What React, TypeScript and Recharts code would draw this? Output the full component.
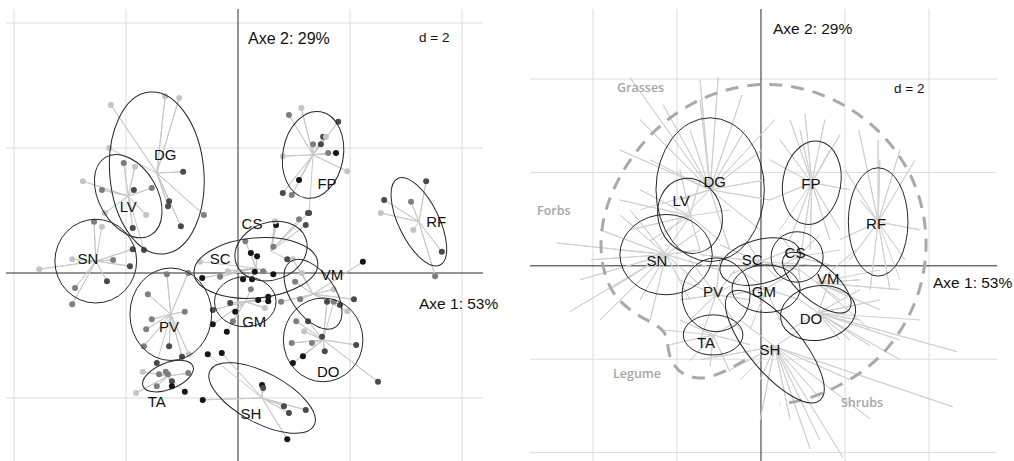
import { ScatterChart, Scatter, XAxis, YAxis, ReferenceLine } from 'recharts';

type P = [number, number];
type SP = [number, number, string];

const groups = ['DG', 'LV', 'SN', 'PV', 'TA', 'SC', 'CS', 'VM', 'GM', 'DO', 'SH', 'FP', 'RF'];

// ---- left panel: sites ----
const leftCentre: Record<string, P> = {
  DG: [-1.45, 1.6], LV: [-1.96, 1.23], SN: [-2.54, 0.19], PV: [-1.2, -0.66], TA: [-1.25, -1.65],
  SC: [0.32, 0.08], CS: [0.59, 0.35], VM: [1.34, -0.34], GM: [0.13, -0.46], DO: [1.52, -1.07],
  SH: [0.43, -2.0], FP: [1.34, 1.89], RF: [3.23, 0.82],
};
// rx, ry, tilt (deg)
const leftAxes: Record<string, [number, number, number]> = {
  DG: [0.84, 1.3, -5], LV: [0.52, 0.72, -30], SN: [0.73, 0.67, 0], PV: [0.73, 0.74, 0], TA: [0.48, 0.21, -22],
  SC: [1.11, 0.48, -5], CS: [0.66, 0.46, -20], VM: [0.71, 0.35, 55], GM: [0.55, 0.4, 0], DO: [0.71, 0.67, 0],
  SH: [1.05, 0.4, 28], FP: [0.54, 0.7, 10], RF: [0.36, 0.77, -26],
};
const leftLabelPos: Record<string, P> = {
  DG: [-1.3, 1.89], LV: [-1.96, 1.06], SN: [-2.68, 0.24], PV: [-1.23, -0.86], TA: [-1.45, -2.06],
  SC: [-0.32, 0.24], CS: [0.25, 0.8], VM: [1.68, -0.02], GM: [0.29, -0.77], DO: [1.61, -1.58],
  SH: [0.23, -2.24], FP: [1.59, 1.44], RF: [3.54, 0.83],
};
const leftSites: Record<string, SP[]> = {
  DG: [[-1.3, 2.83, 'L'], [-1.05, 2.8, 'L'], [-2.27, 2.69, 'L'], [-0.98, 1.62, 'D'], [-1.23, 1.15, 'D'], [-1.25, 1.07, 'D'], [-0.61, 0.93, 'M'], [-1.02, 0.75, 'D'], [-2.3, 2.0, 'L']],
  LV: [[-2.04, 1.76, 'M'], [-1.84, 1.7, 'L'], [-2.77, 1.47, 'L'], [-2.43, 1.33, 'M'], [-1.86, 1.33, 'D'], [-1.54, 1.36, 'M'], [-2.38, 0.96, 'L'], [-1.64, 0.93, 'L'], [-1.88, 0.72, 'D'], [-1.68, 0.37, 'D']],
  SN: [[-3.55, 0.06, 'L'], [-2.96, 0.22, 'L'], [-2.23, 0.21, 'M'], [-1.93, 0.11, 'D'], [-1.88, 0.38, 'D'], [-2.34, -0.13, 'D'], [-2.91, -0.24, 'M'], [-2.96, -0.5, 'M'], [-2.57, 0.82, 'M'], [-2.43, 0.74, 'L']],
  PV: [[-1.27, -0.02, 'M'], [-0.89, 0.0, 'M'], [-1.61, -0.34, 'M'], [-0.95, -0.62, 'M'], [-1.54, -0.74, 'M'], [-1.64, -0.9, 'M'], [-1.68, -1.17, 'M'], [-1.23, -1.17, 'D'], [-1.0, -1.34, 'D'], [-0.88, -1.3, 'L'], [-1.45, -1.44, 'D']],
  TA: [[-1.41, -1.62, 'M'], [-1.29, -1.58, 'M'], [-1.25, -1.62, 'M'], [-1.18, -1.73, 'D'], [-1.18, -1.81, 'B'], [-1.45, -1.81, 'M'], [-1.7, -1.58, 'L'], [-1.82, -1.92, 'L'], [-0.89, -1.6, 'M'], [-0.95, -1.9, 'B']],
  SC: [[-0.64, -0.08, 'B'], [-0.32, -0.06, 'M'], [0.13, 0.51, 'M'], [0.23, 0.32, 'B'], [0.34, 0.27, 'B'], [0.3, 0.02, 'B'], [0.09, -0.1, 'B'], [0.63, -0.02, 'B'], [0.25, -0.1, 'B'], [0.45, 0.03, 'M'], [-0.18, 0.03, 'L'], [-0.68, 0.18, 'L']],
  CS: [[0.68, 0.77, 'B'], [1.09, 0.86, 'M'], [1.25, 0.96, 'D'], [1.21, 0.77, 'D'], [0.66, 0.83, 'L'], [0.63, 0.42, 'M'], [0.88, 0.22, 'D']],
  VM: [[2.23, 0.18, 'B'], [0.98, 0.22, 'L'], [1.14, 0.0, 'L'], [1.02, -0.14, 'M'], [1.71, -0.26, 'L'], [1.11, -0.42, 'M'], [2.07, -0.42, 'D'], [0.77, -0.46, 'M'], [1.82, -0.51, 'D'], [1.95, -0.61, 'L']],
  GM: [[0.36, -0.43, 'B'], [0.54, -0.38, 'B'], [0.54, -0.45, 'B'], [-0.14, -0.48, 'D'], [-0.05, -0.62, 'B'], [-0.45, -0.59, 'D'], [-0.09, -0.77, 'M'], [0.23, -0.26, 'M'], [0.48, -0.56, 'L'], [-0.45, -0.82, 'B'], [-0.2, -0.94, 'B']],
  DO: [[1.04, -0.77, 'M'], [1.25, -0.77, 'D'], [1.18, -0.93, 'L'], [1.5, -1.02, 'D'], [0.96, -1.12, 'M'], [1.32, -1.12, 'M'], [1.55, -1.25, 'D'], [1.16, -1.33, 'B'], [0.98, -1.44, 'B'], [2.11, -1.15, 'D'], [2.5, -1.74, 'D'], [1.59, -0.46, 'D'], [1.71, -0.46, 'M']],
  SH: [[0.43, -1.79, 'B'], [0.45, -1.84, 'D'], [0.82, -2.13, 'D'], [0.91, -2.24, 'D'], [1.21, -2.19, 'D'], [0.88, -2.66, 'B'], [-0.63, -2.03, 'B'], [-0.29, -1.28, 'B'], [-0.54, -1.3, 'B']],
  FP: [[1.13, 2.64, 'L'], [0.91, 2.53, 'M'], [1.79, 2.42, 'D'], [1.52, 2.18, 'D'], [1.57, 2.18, 'L'], [1.34, 2.06, 'M'], [1.48, 2.06, 'D'], [1.61, 1.92, 'M'], [1.75, 1.92, 'B'], [0.8, 1.87, 'L'], [1.95, 1.63, 'L'], [1.09, 1.49, 'B'], [0.8, 1.28, 'D'], [0.96, 1.25, 'M'], [1.27, 0.96, 'D']],
  RF: [[3.36, 1.47, 'D'], [2.61, 1.17, 'D'], [3.09, 1.14, 'M'], [2.55, 0.96, 'L'], [3.64, 0.34, 'D'], [3.52, -0.05, 'M'], [3.13, 0.69, 'L']],
};
const shade: Record<string, string> = { L: '#c4c4c4', M: '#7e7e7e', D: '#4a4a4a', B: '#151515' };

// ---- right panel: species ----
const rightCentre: Record<string, P> = {
  DG: [-1.21, 1.63], LV: [-1.69, 1.07], SN: [-2.26, 0.24], PV: [-1.07, -0.62], TA: [-1.14, -1.48],
  SC: [-0.02, 0.09], CS: [0.86, 0.19], VM: [1.33, -0.36], GM: [0.12, -0.49], DO: [1.36, -1.01],
  SH: [0.33, -1.73], FP: [1.21, 1.78], RF: [2.79, 0.94],
};
const rightAxes: Record<string, [number, number, number]> = {
  DG: [1.29, 1.54, 0], LV: [0.76, 0.81, -15], SN: [1.1, 0.86, 0], PV: [0.81, 0.79, 0], TA: [0.71, 0.43, 0],
  SC: [0.98, 0.47, -15], CS: [0.62, 0.54, 0], VM: [1.0, 0.39, 40], GM: [0.81, 0.51, 0], DO: [0.9, 0.58, -10],
  SH: [1.67, 0.56, 50], FP: [0.69, 0.9, 10], RF: [0.71, 1.16, 0],
};
const rightLabelPos: Record<string, P> = {
  DG: [-1.1, 1.8], LV: [-1.9, 1.39], SN: [-2.48, 0.11], PV: [-1.14, -0.56], TA: [-1.31, -1.65],
  SC: [-0.21, 0.13], CS: [0.81, 0.28], VM: [1.6, -0.28], GM: [0.07, -0.56], DO: [1.19, -1.13],
  SH: [0.21, -1.8], FP: [1.19, 1.76], RF: [2.74, 0.9],
};
const rightSpokes: Record<string, P[]> = {
  DG: [[-3.12, 4.03], [-2.33, 3.45], [-1.45, 3.98], [-1.02, 4.03], [-0.45, 3.66], [0.02, 2.48], [0.1, 1.84], [0.21, 1.41], [-2.64, 2.27], [-3.36, 2.48], [-2.4, 0.56], [-0.74, 0.34], [-1.69, 2.91], [0.33, 3.13], [-2.88, 3.13], [-1.45, 3.55], [-0.38, 2.91], [-1.93, 1.41], [-0.02, 0.77], [-2.88, 1.2]],
  LV: [[-2.88, 1.63], [-3.36, 1.41], [-2.64, 0.54], [-1.45, 0.34], [-0.98, 0.54], [-1.93, 2.06], [-3.12, 0.77], [-1.45, 1.84], [-2.4, 0.13], [-0.74, 1.2]],
  SN: [[-4.86, 0.49], [-4.55, -0.98], [-3.83, 0.77], [-3.36, 1.09], [-3.6, -0.51], [-2.88, -0.73], [-1.45, 0.77], [-0.98, -0.09], [-2.64, -1.16], [-1.69, -0.73], [-4.05, 0.13], [-1.45, -0.41], [-4.31, -0.3], [-3.83, -1.16], [-3.12, 1.2], [-1.45, 0.34], [-3.36, 0.34]],
  PV: [[-1.93, -0.3], [-1.69, -1.16], [-0.5, -1.37], [-0.98, 0.13], [-0.26, -0.73], [-1.45, -1.59], [-1.93, -0.73], [-0.62, -0.09], [-1.69, 0.13], [-0.5, -0.3]],
  TA: [[-2.17, -1.69], [-1.93, -1.16], [-0.5, -1.16], [-0.26, -1.69], [-1.21, -2.14], [-1.69, -2.03], [-0.74, -2.27], [-2.4, -1.37]],
  SC: [[-0.98, 0.45], [-0.74, -0.19], [0.69, 0.34], [0.93, -0.09], [-0.38, 0.56], [0.45, -0.3], [-1.45, 0.24], [1.17, 0.02]],
  CS: [[0.45, 0.66], [1.4, 0.66], [1.64, 0.02], [0.93, -0.3], [0.33, -0.09], [1.88, 0.34]],
  VM: [[2.12, -0.62], [2.36, -0.3], [1.88, -0.73], [2.83, -0.94], [0.93, -0.09], [2.6, -1.37], [2.26, 0.34], [3.31, -0.51], [2.83, -0.09]],
  GM: [[-0.5, -0.09], [0.69, -0.19], [0.93, -0.73], [-0.02, -0.94], [0.45, -1.16], [-0.74, -0.62], [-0.26, -1.37]],
  DO: [[4.67, -1.84], [3.31, -1.59], [2.36, -0.51], [2.83, -0.73], [2.12, -1.59], [0.69, -1.37], [1.64, -0.3], [2.6, -1.71], [0.93, -0.73], [3.31, -2.01], [2.36, -1.16], [1.88, -1.59], [3.79, -1.16]],
  SH: [[1.95, -4.1], [4.57, -3.02], [1.4, -2.83], [1.17, -3.92], [0.69, -3.28], [-0.02, -2.44], [-0.74, -2.23], [-0.5, -1.16], [2.12, -2.44], [0.93, -1.37], [2.6, -3.28], [-1.45, -2.01], [-0.02, -3.3], [1.4, -3.73], [-0.5, -2.44]],
  FP: [[0.69, 3.13], [1.05, 3.25], [1.52, 3.13], [1.88, 2.81], [0.45, 2.7], [0.21, 1.41], [0.69, 0.56], [1.17, 0.34], [1.88, 0.77], [2.1, 1.63], [0.93, 0.13], [0.21, 2.27], [1.64, 0.56], [0.93, 2.91], [1.64, 2.48], [0.45, 0.77]],
  RF: [[2.33, 2.91], [2.79, 2.7], [3.31, 2.48], [3.67, 2.27], [2.0, 2.06], [2.12, 0.13], [2.6, -0.51], [3.07, -0.51], [3.43, 0.13], [3.79, 0.77], [2.36, 1.41], [1.88, 0.56], [2.83, 2.27], [3.31, -0.3]],
};
// functional-group envelope (dashed), from the Legume bulge round to Shrubs
const envelope: P[] = [
  [-0.38, -2.02], [-0.9, -2.29], [-1.45, -2.46], [-2.0, -2.29], [-2.24, -1.84], [-2.21, -1.37],
  [-2.88, -1.11], [-3.55, -0.66], [-3.83, 0.09], [-3.81, 0.88], [-3.55, 1.63], [-3.0, 2.48], [-2.17, 3.23],
  [-1.12, 3.73], [0.02, 3.94], [1.07, 3.81], [2.0, 3.47], [2.83, 2.91], [3.45, 2.2], [3.83, 1.41], [3.98, 0.47],
  [3.83, -0.47], [3.45, -1.26], [2.83, -2.01], [2.0, -2.53], [1.05, -2.89], [0.45, -2.96],
];

const Blank = () => <g />;
const FONT = '"Liberation Sans", Arial, sans-serif';

function Panel(props: any) {
  const { w, h, m, xd, yd, gx, gy, centre, axes, labelPos, spokes, sites, env } = props;
  const kx = (w - m.left - m.right) / (xd[1] - xd[0]);
  const ky = (h - m.top - m.bottom) / (yd[1] - yd[0]);
  const ell = groups.map((g) => ({ x: centre[g][0], y: centre[g][1], rx: axes[g][0], ry: axes[g][1], t: axes[g][2] }));
  const labels = groups.map((g) => ({ x: labelPos[g][0], y: labelPos[g][1], name: g }));
  const pts = sites ? groups.flatMap((g) => sites[g].map((s: SP) => ({ x: s[0], y: s[1], c: shade[s[2]] }))) : [];
  return (
    <ScatterChart width={w} height={h} margin={m}>
      <XAxis type="number" dataKey="x" domain={xd} hide allowDataOverflow />
      <YAxis type="number" dataKey="y" domain={yd} hide allowDataOverflow />
      {gx.map((v: number) => <ReferenceLine key={'gx' + v} x={v} stroke="#dcdcdc" />)}
      {gy.map((v: number) => <ReferenceLine key={'gy' + v} y={v} stroke="#dcdcdc" />)}
      <ReferenceLine x={0} stroke="#2a2a2a" />
      <ReferenceLine y={0} stroke="#2a2a2a" />
      {groups.map((g) => {
        const c = { x: centre[g][0], y: centre[g][1] };
        const ends = sites ? sites[g] : spokes[g];
        const data = ends.flatMap((p: number[]) => [c, { x: p[0], y: p[1] }]);
        return (
          <Scatter key={'sp' + g} data={data} shape={Blank} line={{ stroke: sites ? '#c8c8c8' : '#d0d0d0', strokeWidth: 1 }}
            lineJointType="linear" isAnimationActive={false} />
        );
      })}
      {env && (
        <Scatter data={env.map((p: P) => ({ x: p[0], y: p[1] }))} shape={Blank} lineJointType="basis"
          line={{ stroke: '#a9a9a9', strokeWidth: 3, strokeDasharray: '13 9', fill: 'none' }} isAnimationActive={false} />
      )}
      {sites && (
        <Scatter data={pts} isAnimationActive={false}
          shape={(p: any) => <circle cx={p.cx} cy={p.cy} r={3} fill={(p.payload ?? p).c} />} />
      )}
      <Scatter data={ell} isAnimationActive={false}
        shape={(p: any) => {
          const d = p.payload ?? p;
          return (
            <ellipse cx={p.cx} cy={p.cy} rx={d.rx * kx} ry={d.ry * ky} fill="none" stroke="#262626" strokeWidth={1}
              transform={`rotate(${d.t} ${p.cx} ${p.cy})`} />
          );
        }} />
      <Scatter data={labels} isAnimationActive={false}
        shape={(p: any) => (
          <text x={p.cx} y={p.cy} textAnchor="middle" dominantBaseline="central" fontSize={15} fontFamily={FONT} fill="#111">
            {(p.payload ?? p).name}
          </text>
        )} />
    </ScatterChart>
  );
}

const Note = ({ x, y, size, text, color = '#111', weight = 400, family = FONT }: any) => (
  <div style={{ position: 'absolute', left: x, top: y - size / 2, fontSize: size, lineHeight: 1, color, fontWeight: weight, fontFamily: family, whiteSpace: 'nowrap' }}>
    {text}
  </div>
);

const GROUP_FONT = '"Open Sans", sans-serif';

export default function App() {
  return (
    <div style={{ position: 'absolute', left: 0, top: 0, width: 1014, height: 461, background: '#fff', overflow: 'hidden' }}>
      <div style={{ position: 'absolute', left: 0, top: 0, width: 500, height: 461 }}>
        <Panel w={500} h={461} m={{ top: 9, right: 17, bottom: 0, left: 6 }} xd={[-4.143, 4.375]} yd={[-3.008, 4.224]}
          gx={[-4, -2, 2, 4]} gy={[4, 2, -2]} centre={leftCentre} axes={leftAxes} labelPos={leftLabelPos} sites={leftSites} />
        <Note x={248} y={39} size={16} text="Axe 2: 29%" />
        <Note x={419} y={38} size={13.5} text="d = 2" />
        <Note x={419} y={304} size={15.5} text="Axe 1: 53%" />
      </div>
      <div style={{ position: 'absolute', left: 510, top: 0, width: 504, height: 461 }}>
        <Panel w={504} h={461} m={{ top: 9, right: 17, bottom: 0, left: 20 }} xd={[-5.5, 5.62]} yd={[-4.18, 5.5]}
          gx={[-4, -2, 2, 4]} gy={[4, 2, -2, -4]} centre={rightCentre} axes={rightAxes} labelPos={rightLabelPos}
          spokes={rightSpokes} env={envelope} />
      </div>
      <Note x={773} y={29} size={15.5} text="Axe 2: 29%" />
      <Note x={894} y={89} size={13.5} text="d = 2" />
      <Note x={933} y={283} size={15.5} text="Axe 1: 53%" />
      <Note x={617} y={88} size={12.5} text="Grasses" color="#a6a6a6" weight={600} family={GROUP_FONT} />
      <Note x={537} y={211} size={12.5} text="Forbs" color="#a6a6a6" weight={600} family={GROUP_FONT} />
      <Note x={613} y={374} size={12.5} text="Legume" color="#a6a6a6" weight={600} family={GROUP_FONT} />
      <Note x={841} y={403} size={12.5} text="Shrubs" color="#a6a6a6" weight={600} family={GROUP_FONT} />
    </div>
  );
}
